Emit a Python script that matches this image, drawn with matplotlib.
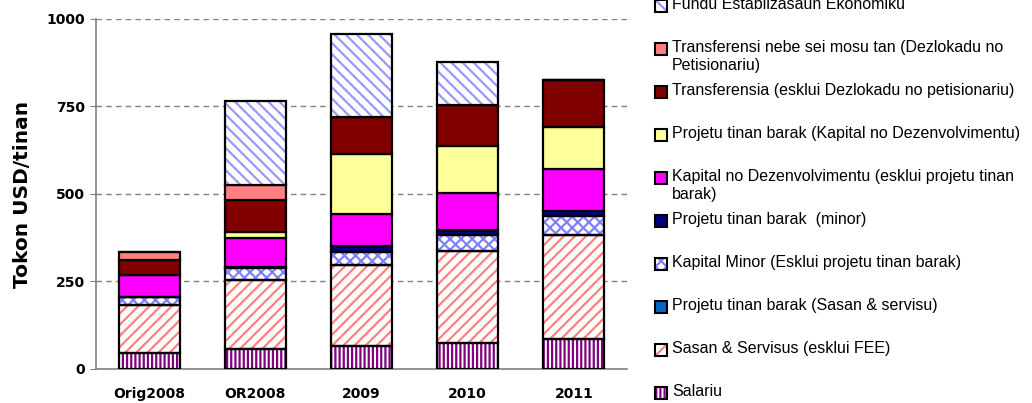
import numpy as np
import matplotlib
matplotlib.use("Agg")
import matplotlib.pyplot as plt
from matplotlib.patches import Rectangle

plt.rcParams["hatch.linewidth"] = 1.6

years = ["Orig2008", "OR2008", "2009", "2010", "2011"]

# stacking order, bottom to top
salariu = [45, 58, 65, 75, 86]
sasan = [138, 197, 231, 261, 297]
projetu_sasan = [0, 0, 0, 0, 0]
kapital_minor = [24, 33, 39, 47, 55]
projetu_minor = [0, 2, 15, 15, 12]
kapital_dez = [61, 85, 94, 105, 122]
projetu_kapital = [0, 15, 170, 135, 118]
transferensia = [44, 93, 105, 117, 136]
transferensi_nebe = [22, 42, 0, 0, 0]
fundu = [0, 240, 239, 121, 0]

labels = [
    "Salariu",
    "Sasan & Servisus (esklui FEE)",
    "Projetu tinan barak (Sasan & servisu)",
    "Kapital Minor (Esklui projetu tinan barak)",
    "Projetu tinan barak  (minor)",
    "Kapital no Dezenvolvimentu (esklui projetu tinan\nbarak)",
    "Projetu tinan barak (Kapital no Dezenvolvimentu)",
    "Transferensia (esklui Dezlokadu no petisionariu)",
    "Transferensi nebe sei mosu tan (Dezlokadu no\nPetisionariu)",
    "Fundu Establizasaun Ekonomiku",
]
series = [salariu, sasan, projetu_sasan, kapital_minor, projetu_minor,
          kapital_dez, projetu_kapital, transferensia, transferensi_nebe, fundu]

# (facecolor, hatch colour, hatch)
styles = [
    ("white", "#800080", "||||"),
    ("white", "#FF8080", "///"),
    ("#0066CC", None, None),
    ("white", "#8080FF", "xxx"),
    ("#000080", None, None),
    ("#FF00FF", None, None),
    ("#FFFF99", None, None),
    ("#800000", None, None),
    ("#FF8080", None, None),
    ("white", "#9999FF", "\\\\\\"),
]

fig = plt.figure(figsize=(10.32, 4.03), dpi=100)
ax = fig.add_axes([0.093, 0.0844, 0.5146, 0.8685])

x = np.arange(len(years))
w = 0.575
bottom = np.zeros(len(years))
for vals, (fc, hc, h) in zip(series, styles):
    vals = np.array(vals, dtype=float)
    if hc:
        ax.bar(x, vals, w, bottom=bottom, facecolor=fc, edgecolor=hc,
               hatch=h, linewidth=0, zorder=3)
        ax.bar(x, vals, w, bottom=bottom, facecolor="none", edgecolor="black",
               linewidth=1.6, zorder=4)
    else:
        ax.bar(x, vals, w, bottom=bottom, facecolor=fc, edgecolor="black",
               linewidth=1.6, zorder=3)
    bottom += vals

ax.set_xlim(-0.5, 4.5)
ax.set_ylim(0, 1000)
ax.set_yticks([0, 250, 500, 750, 1000])
ax.set_xticks(x)
ax.set_xticklabels(years, fontweight="bold", fontsize=10)
ax.tick_params(axis="x", length=0, pad=13)
ax.tick_params(axis="y", length=4, color="#808080", labelsize=10, pad=4)
for t in ax.get_yticklabels():
    t.set_fontweight("bold")
ax.yaxis.grid(True, linestyle=(0, (4, 3)), color="#808080", linewidth=1, zorder=0)
ax.set_axisbelow(True)
for s in ["top", "right"]:
    ax.spines[s].set_visible(False)
ax.spines["left"].set_color("#808080")
ax.spines["bottom"].set_color("#808080")
ax.spines["left"].set_linewidth(1.2)
ax.spines["bottom"].set_linewidth(1.2)
ax.set_ylabel("Tokon USD/tinan", fontweight="bold", fontsize=14.5, labelpad=10)

# legend, drawn like the Excel one: top entry first, handle on first line
W, H = 1032, 403
legfont = ["Liberation Sans", "DejaVu Sans"]
for i, idx in enumerate(range(len(labels) - 1, -1, -1)):
    yc = 6 + i * 43.0
    fc, hc, h = styles[idx]
    box = [655 / W, 1 - (yc + 6) / H, 12 / W, 12 / H]
    if hc:
        fig.patches.append(Rectangle(box[:2], box[2], box[3], transform=fig.transFigure,
                                     facecolor=fc, edgecolor=hc, hatch=h, linewidth=0))
        fig.patches.append(Rectangle(box[:2], box[2], box[3], transform=fig.transFigure,
                                     facecolor="none", edgecolor="black", linewidth=1.5))
    else:
        fig.patches.append(Rectangle(box[:2], box[2], box[3], transform=fig.transFigure,
                                     facecolor=fc, edgecolor="black", linewidth=1.5))
    fig.text(672 / W, 1 - (yc - 9) / H, labels[idx], va="top", ha="left",
             fontsize=11.5, family=legfont, linespacing=1.25)

fig.savefig("out.png", dpi=100)
